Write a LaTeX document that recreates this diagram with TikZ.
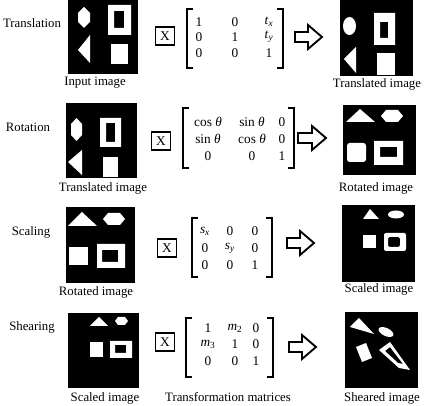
\documentclass[tikz,border=0pt]{standalone}
\usepackage{fontspec}
\setmainfont{Liberation Serif}
\usepackage{tikz}

\tikzset{
  lbl/.style={inner sep=0.75pt, font=\fontsize{9.6}{11}\selectfont},
  entry/.style={inner sep=0.75pt, font=\fontsize{10}{11}\selectfont},
  xbox/.style={draw, line width=1.2pt, minimum width=14.25pt, minimum height=13.5pt, inner sep=0pt, font=\fontsize{10}{11}\selectfont},
  brk/.style={line width=1.2pt},
  blk/.style={line width=1.4pt, line join=miter},
}

\begin{document}
\begin{tikzpicture}[x=0.75pt,y=0.75pt,yscale=-1,xscale=1]
\useasboundingbox (0,0) rectangle (426,406);

%Shape: Input image [id:row1a]
\fill [black] (68,0) rectangle (138,74);
\fill [white] (84,7) -- (90,13) -- (90,22) -- (84,28) -- (78,22) -- (78,13) -- cycle ;
\fill [white,even odd rule] (108,5) rectangle (131,35) (114,11) rectangle (124,28);
\fill [white] (78,50) -- (90,35) -- (90,63) -- cycle ;
\fill [white] (111,44) rectangle (128,64);
%Shape: Translated image [id:row1b]
\fill [black] (340,0) rectangle (413,76);
\fill [white] (349.5,26) ellipse (6.5 and 9);
\fill [white,even odd rule] (374,13) rectangle (395,45) (380,22) rectangle (388,38);
\fill [white] (344,59) -- (356,47) -- (356,73) -- cycle ;
\fill [white] (377,53) rectangle (395,75);

%Shape: Translated image [id:row2a]
\fill [black] (66,103) rectangle (137,178);
\fill [white] (76.5,118) -- (82,124) -- (82,135) -- (76.5,141) -- (71,135) -- (71,124) -- cycle ;
\fill [white,even odd rule] (100,118) rectangle (121,147) (106,123) rectangle (115,142);
\fill [white] (68,162) -- (82,150) -- (82,175) -- cycle ;
\fill [white] (103,157) rectangle (118,177);
%Shape: Rotated image [id:row2b]
\fill [black] (343,105) rectangle (416,175);
\fill [white] (346,122) -- (360,109) -- (375,122) -- cycle ;
\fill [white] (381,116) -- (386,110) -- (398,110) -- (403,116) -- (398,122) -- (386,122) -- cycle ;
\fill [white,rounded corners=2] (347,143) rectangle (366,162);
\fill [white,even odd rule] (374,141) rectangle (403,165) (380,147) rectangle (397,157);

%Shape: Rotated image [id:row3a]
\fill [black] (66,207) rectangle (135,283);
\fill [white] (68,226) -- (82,212) -- (97,226) -- cycle ;
\fill [white] (103,219) -- (108,213) -- (120,213) -- (125,219) -- (120,225) -- (108,225) -- cycle ;
\fill [white] (69,247) rectangle (88,265);
\fill [white,even odd rule] (97,244) rectangle (125,268) (102,250) rectangle (118,262);
%Shape: Scaled image [id:row3b]
\fill [black] (342,205) rectangle (415,282);
\fill [white] (363,219) -- (370,209) -- (379,219) -- cycle ;
\fill [white] (396,214.5) ellipse (8 and 4);
\fill [white] (363,235) rectangle (376,248);
\fill [white,even odd rule,rounded corners=1.5] (384,233) rectangle (406,251) (388,237) rectangle (400,247);

%Shape: Scaled image [id:row4a]
\fill [black] (68,313) rectangle (139,388);
\fill [white] (90,326) -- (99,317) -- (108,326) -- cycle ;
\fill [white] (115,321) -- (118,317) -- (125,317) -- (128,321) -- (125,325) -- (118,325) -- cycle ;
\fill [white] (90,342) rectangle (103,357);
\fill [white,even odd rule] (110,341) rectangle (132,358) (115,345) rectangle (126,353);
%Shape: Sheared image [id:row4b]
\fill [black] (345,312) rectangle (418,388);
\fill [white] (350,327) -- (359,318) -- (374,334) -- cycle ;
\fill [white, rotate around={25:(386,332)}] (386,332) ellipse (8 and 4);
\fill [white] (356,347) -- (366,343) -- (372,358) -- (362,362) -- cycle ;
\fill [white,even odd rule] (379,350) -- (390,342) -- (410,370) -- (399,368) -- cycle (385,351) -- (390,347) -- (403,364) -- (398,363) -- cycle ;

%Flowchart: X boxes
\draw (165,36) node [xbox] (xa) {X};
\draw (161,141) node [xbox] (xb) {X};
\draw (167,248) node [xbox] (xc) {X};
\draw (165,342) node [xbox] (xd) {X};

%Brackets
\draw [brk] (193,9) -- (187,9) -- (187,68) -- (193,68) ;
\draw [brk] (277,9) -- (283,9) -- (283,68) -- (277,68) ;
\draw [brk] (189,108) -- (183,108) -- (183,168) -- (189,168) ;
\draw [brk] (288,108) -- (294,108) -- (294,168) -- (288,168) ;
\draw [brk] (198,218) -- (192,218) -- (192,277) -- (198,277) ;
\draw [brk] (266,218) -- (272,218) -- (272,277) -- (266,277) ;
\draw [brk] (192,318) -- (186,318) -- (186,377) -- (192,377) ;
\draw [brk] (267,318) -- (273,318) -- (273,377) -- (267,377) ;

%Right Arrows
\draw [blk] (295,32) -- (308,32) -- (308,25) -- (322,37) -- (308,49) -- (308,42) -- (295,42) -- cycle ;
\draw [blk] (298,133) -- (312,133) -- (312,126) -- (326,138) -- (312,150) -- (312,143) -- (298,143) -- cycle ;
\draw [blk] (287,238) -- (300,238) -- (300,231) -- (314,243) -- (300,255) -- (300,248) -- (287,248) -- cycle ;
\draw [blk] (289,342) -- (302,342) -- (302,335) -- (316,347) -- (302,359) -- (302,352) -- (289,352) -- cycle ;

% Matrix entries: translation
\draw (199,22) node [entry] (a11) {1};
\draw (199,37) node [entry] (a21) {0};
\draw (199,53) node [entry] (a31) {0};
\draw (235,22) node [entry] (a12) {0};
\draw (235,37) node [entry] (a22) {1};
\draw (235,53) node [entry] (a32) {0};
\draw (269,22) node [entry] (a13) {\textit{t}\textsubscript{\textit{x}}};
\draw (269,37) node [entry] (a23) {\textit{t}\textsubscript{\textit{y}}};
\draw (269,53) node [entry] (a33) {1};
% Matrix entries: rotation
\draw (208,122) node [entry] (b11) {cos \textit{θ}};
\draw (208,139) node [entry] (b21) {sin \textit{θ}};
\draw (208,156) node [entry] (b31) {0};
\draw (252,122) node [entry] (b12) {sin \textit{θ}};
\draw (252,139) node [entry] (b22) {cos \textit{θ}};
\draw (252,156) node [entry] (b32) {0};
\draw (282,122) node [entry] (b13) {0};
\draw (282,139) node [entry] (b23) {0};
\draw (282,156) node [entry] (b33) {1};
% Matrix entries: scaling
\draw (205,231) node [entry] (c11) {\textit{s}\textsubscript{\textit{x}}};
\draw (205,248) node [entry] (c21) {0};
\draw (205,265) node [entry] (c31) {0};
\draw (230,231) node [entry] (c12) {0};
\draw (230,248) node [entry] (c22) {\textit{s}\textsubscript{\textit{y}}};
\draw (230,265) node [entry] (c32) {0};
\draw (255,231) node [entry] (c13) {0};
\draw (255,248) node [entry] (c23) {0};
\draw (255,265) node [entry] (c33) {1};
% Matrix entries: shearing
\draw (208,328) node [entry] (d11) {1};
\draw (208,344) node [entry] (d21) {\textit{m}\textsubscript{3}};
\draw (208,361) node [entry] (d31) {0};
\draw (235,328) node [entry] (d12) {\textit{m}\textsubscript{2}};
\draw (235,344) node [entry] (d22) {1};
\draw (235,361) node [entry] (d32) {0};
\draw (256,328) node [entry] (d13) {0};
\draw (256,344) node [entry] (d23) {0};
\draw (256,361) node [entry] (d33) {1};

% Text Node
\draw (32,23) node [lbl] (ttrans) {Translation};
\draw (28,127) node [lbl] (trot) {Rotation};
\draw (31,232) node [lbl] (tscal) {Scaling};
\draw (32,327) node [lbl] (tshear) {Shearing};
% Text Node
\draw (95,83) node [lbl] (cin) {Input image};
\draw (377,84) node [lbl] (ctra) {Translated image};
\draw (103,188) node [lbl] (ctrb) {Translated image};
\draw (376,188) node [lbl] (crota) {Rotated image};
\draw (96,292) node [lbl] (crotb) {Rotated image};
\draw (379,289) node [lbl] (cscaa) {Scaled image};
\draw (105,398) node [lbl] (cscab) {Scaled image};
\draw (228,397) node [lbl] (cmat) {Transformation matrices};
\draw (382,398) node [lbl] (cshear) {Sheared image};
\end{tikzpicture}
\end{document}
